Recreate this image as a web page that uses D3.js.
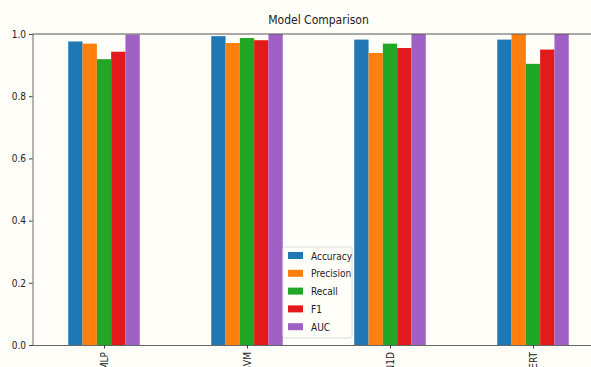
<!DOCTYPE html>
<html><head><meta charset="utf-8">
<script src="https://cdn.jsdelivr.net/npm/d3@7"></script>
<style>
html,body{margin:0;padding:0;background:#fffdf8;}
svg{display:block;}
text{font-family:"DejaVu Sans Condensed","DejaVu Sans",sans-serif;fill:#222;}
</style></head>
<body>
<svg id="c" width="591" height="367"></svg>
<script>
const models = ["MLP", "SVM", "CNN1D", "BERT"];
const metrics = ["Accuracy", "Precision", "Recall", "F1", "AUC"];
const accuracy  = [0.976, 0.993, 0.982, 0.982];
const precision = [0.969, 0.971, 0.939, 1.000];
const recall    = [0.919, 0.987, 0.969, 0.904];
const f1        = [0.943, 0.980, 0.955, 0.950];
const auc       = [0.998, 1.000, 1.000, 1.000];
const yTicks = [0.0, 0.2, 0.4, 0.6, 0.8, 1.0];
const colors = ["#1f77b4", "#ff7f0e", "#22a626", "#e31a1c", "#9f61c4"];

const series = [accuracy, precision, recall, f1, auc];
const svg = d3.select("#c");
const mLeft = 32.5, mRight = 604.5, mTop = 34, mBottom = 345;

const x = d3.scaleLinear().domain([-0.5, models.length - 0.5]).range([mLeft, mRight]);
const y = d3.scaleLinear().domain([0, 1]).range([mBottom, mTop]);
const bw = x(0.1) - x(0);

svg.append("rect").attr("width", 591).attr("height", 367).attr("fill", "#fffdf8");

// bars
series.forEach((vals, si) => {
  svg.append("g").selectAll("rect").data(vals).join("rect")
    .attr("x", (d, i) => x(i - 0.25 + si * 0.1))
    .attr("y", d => y(d))
    .attr("width", bw)
    .attr("height", d => y(0) - y(d))
    .attr("fill", colors[si]);
});

// y axis
const ya = svg.append("g").attr("transform", `translate(${mLeft},0)`)
  .call(d3.axisLeft(y).tickValues(yTicks).tickFormat(d3.format(".1f")).tickSize(3.5).tickPadding(3));
ya.select(".domain").attr("stroke", "#666");
ya.selectAll(".tick line").attr("stroke", "#444");
ya.selectAll("text").attr("font-size", 10).attr("fill", "#333");

// x axis
const xa = svg.append("g").attr("transform", `translate(0,${mBottom})`)
  .call(d3.axisBottom(x).tickValues(d3.range(models.length)).tickFormat(i => models[i]).tickSize(3.5).tickSizeOuter(0));
xa.select(".domain").attr("stroke", "#666");
xa.selectAll(".tick line").attr("stroke", "#444");
xa.selectAll("text")
  .attr("font-size", 10).attr("fill", "#333")
  .attr("transform", "rotate(-90)")
  .attr("text-anchor", "end")
  .attr("x", -7).attr("y", 0).attr("dy", "0.35em");

// top spine
svg.append("line").attr("x1", mLeft).attr("x2", mRight).attr("y1", mTop).attr("y2", mTop)
  .attr("stroke", "#555").attr("stroke-width", 1);

// title
svg.append("text").attr("x", (mLeft + mRight) / 2).attr("y", 24)
  .attr("text-anchor", "middle").attr("font-size", 12).text("Model Comparison");

// legend
const lg = svg.append("g").attr("transform", "translate(283,247)");
lg.append("rect").attr("width", 69).attr("height", 91).attr("rx", 2)
  .attr("fill", "#fffdf8").attr("stroke", "#ddd");
metrics.forEach((m, i) => {
  const g = lg.append("g").attr("transform", `translate(5,${9 + i * 17.8})`);
  g.append("rect").attr("x", 0).attr("y", -4).attr("width", 15).attr("height", 7).attr("fill", colors[i]);
  g.append("text").attr("x", 23).attr("y", 0).attr("dy", "0.35em").attr("font-size", 10).text(m);
});
</script>
</body></html>
